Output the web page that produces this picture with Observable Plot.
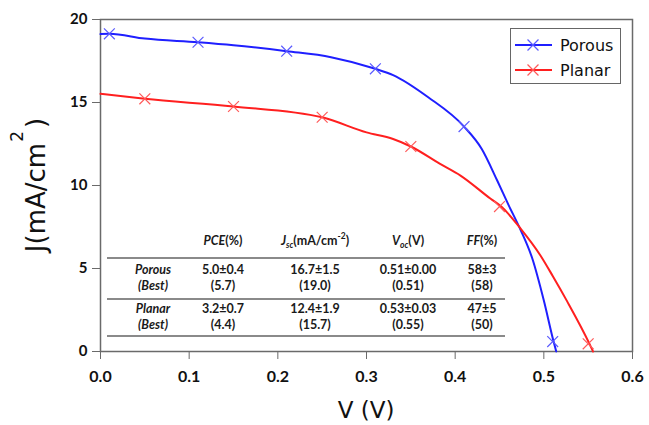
<!DOCTYPE html>
<html><head><meta charset="utf-8">
<script src="https://cdn.jsdelivr.net/npm/d3@7"></script>
<script src="https://cdn.jsdelivr.net/npm/@observablehq/plot@0.6"></script>
<style>
html,body{margin:0;padding:0;background:#fff;}
#wrap{position:relative;width:649px;height:425px;overflow:hidden;}
#tbl{position:absolute;left:0;top:0;width:649px;height:425px;pointer-events:none;font-family:Lato,sans-serif;font-weight:700;font-size:12.5px;color:#1a1a1a;}
.cell{position:absolute;transform:translate(-50%,-50%);white-space:nowrap;line-height:1.2;text-align:center;}
.two{line-height:15.5px;}
.it{font-style:italic;}
.hr{position:absolute;height:2px;background:#8a8a8a;}
#legend{position:absolute;left:510px;top:28px;width:111px;height:56px;border:1.5px solid #666;box-sizing:border-box;background:#fff;}
sub,sup{font-size:8.5px;line-height:0;}
</style></head><body><div id="wrap"></div>
<script>
// ---- data ----
const porousV = [0, 0.01, 0.05, 0.11, 0.15, 0.21, 0.26, 0.31, 0.33, 0.37, 0.41, 0.43, 0.4474, 0.46, 0.474, 0.487, 0.5, 0.511, 0.514];
const porousJ = [19.12, 19.14, 18.85, 18.63, 18.45, 18.09, 17.73, 17.03, 16.65, 15.3, 13.55, 12.2, 10.3, 8.85, 7.3, 5.6, 3.07, 0.6, 0];
const planarV = [0, 0.05, 0.15, 0.25, 0.3, 0.33, 0.35, 0.383, 0.406, 0.44, 0.452, 0.474, 0.496, 0.51, 0.526, 0.5515, 0.5555];
const planarJ = [15.52, 15.22, 14.76, 14.11, 13.2, 12.8, 12.35, 11.3, 10.6, 9.2, 8.73, 7.39, 5.8, 4.55, 3.05, 0.46, 0];
const porousMarkV = [0.01, 0.11, 0.21, 0.31, 0.41, 0.51];
const porousMarkJ = [19.14, 18.63, 18.09, 17.03, 13.55, 0.6];
const planarMarkV = [0.05, 0.15, 0.25, 0.35, 0.45, 0.55];
const planarMarkJ = [15.22, 14.76, 14.11, 12.35, 8.73, 0.46];
const xTicks = [0, 0.1, 0.2, 0.3, 0.4, 0.5, 0.6];
const yTicks = [0, 5, 10, 15, 20];
const seriesNames = ["Porous", "Planar"];
const seriesColors = ["#1f1fff", "#ff1f1f"];
const markColors = ["#5a5aff", "#ff5a5a"];
const xLabel = "V (V)";
const yLabelMain = "J(mA/cm";
const yLabelSup = "2";
// table
const tableHeaders = ['<span class="it">PCE</span>(%)', '<span class="it">J<sub>sc</sub></span>(mA/cm<sup>-2</sup>)', '<span class="it">V<sub>oc</sub></span>(V)', '<span class="it">FF</span>(%)'];
const tableRowNames = ["Porous", "Planar"];
const bestLabel = "(Best)";
const pceMean = ["5.0±0.4", "3.2±0.7"];
const pceBest = ["(5.7)", "(4.4)"];
const jscMean = ["16.7±1.5", "12.4±1.9"];
const jscBest = ["(19.0)", "(15.7)"];
const vocMean = ["0.51±0.00", "0.53±0.03"];
const vocBest = ["(0.51)", "(0.55)"];
const ffMean = ["58±3", "47±5"];
const ffBest = ["(58)", "(50)"];

// ---- build ----
const porous = porousV.map((v, i) => ({V: v, J: porousJ[i]}));
const planar = planarV.map((v, i) => ({V: v, J: planarJ[i]}));
const porousMarks = porousMarkV.map((v, i) => ({V: v, J: porousMarkJ[i]}));
const planarMarks = planarMarkV.map((v, i) => ({V: v, J: planarMarkJ[i]}));

const chart = Plot.plot({
  width: 649, height: 425,
  marginLeft: 100, marginRight: 17, marginTop: 19, marginBottom: 74,
  style: {fontFamily: "Lato, sans-serif", background: "#fff", color: "#111"},
  x: {domain: [0, 0.6]},
  y: {domain: [0, 20]},
  marks: [
    Plot.frame({stroke: "#6a6a6a", strokeWidth: 1.5}),
    Plot.axisX({ticks: xTicks, tickFormat: d3.format(".1f"), tickSize: 8, tickPadding: 11, fontSize: 16, fontWeight: 700, stroke: "#6a6a6a", label: null}),
    Plot.axisY({ticks: yTicks, tickSize: 8, tickPadding: 5, fontSize: 15, fontWeight: 700, stroke: "#6a6a6a", label: null}),
    Plot.line(porous, {x: "V", y: "J", stroke: seriesColors[0], strokeWidth: 2, curve: "monotone-x"}),
    Plot.line(planar, {x: "V", y: "J", stroke: seriesColors[1], strokeWidth: 2, curve: "monotone-x"}),
    Plot.dot(porousMarks, {x: "V", y: "J", symbol: "times", r: 5, stroke: markColors[0], strokeWidth: 1.2}),
    Plot.dot(planarMarks, {x: "V", y: "J", symbol: "times", r: 5, stroke: markColors[1], strokeWidth: 1.2})
  ]
});
document.getElementById("wrap").appendChild(chart);

const xs = chart.scale("x"), ys = chart.scale("y");
const svg = d3.select(chart);
const xMid = (xs.range[0] + xs.range[1]) / 2;
const yMid = (ys.range[0] + ys.range[1]) / 2;
svg.append("text").attr("x", xMid).attr("y", 418).attr("text-anchor", "middle")
  .attr("font-family", "DejaVu Sans").attr("font-size", 23).attr("fill", "#111").text(xLabel);
const yl = svg.append("text").attr("transform", `translate(45,${yMid}) rotate(-90)`).attr("text-anchor", "middle")
  .attr("font-family", "DejaVu Sans").attr("font-size", 26).attr("fill", "#111");
yl.append("tspan").text(yLabelMain);
yl.append("tspan").attr("font-size", 17).attr("dy", -22).attr("dx", 1).text(yLabelSup);
yl.append("tspan").attr("dy", 22).attr("dx", 3).text(")");

// table overlay
const tbl = document.createElement("div");
tbl.id = "tbl";
document.getElementById("wrap").appendChild(tbl);
const colX = [153, 223, 315, 408, 482];
function cell(x, y, html, cls) {
  const d = document.createElement("div");
  d.className = "cell" + (cls ? " " + cls : "");
  d.style.left = x + "px"; d.style.top = y + "px";
  d.innerHTML = html; tbl.appendChild(d);
}
function hr(y) {
  const d = document.createElement("div");
  d.className = "hr"; d.style.left = "107px"; d.style.width = "398px"; d.style.top = (y - 1) + "px";
  tbl.appendChild(d);
}
tableHeaders.forEach((h, i) => cell(colX[i + 1], 240, h));
hr(258); hr(299); hr(336);
const rowY = [277, 316];
tableRowNames.forEach((n, r) => {
  const y = rowY[r];
  cell(colX[0], y, n + "<br>" + bestLabel, "it two");
  [[pceMean, pceBest], [jscMean, jscBest], [vocMean, vocBest], [ffMean, ffBest]].forEach(([m, b], c) => {
    cell(colX[c + 1], y, m[r] + "<br>" + b[r], "two");
  });
});

// legend
const leg = document.createElement("div");
leg.id = "legend";
document.getElementById("wrap").appendChild(leg);
const ls = d3.select(leg).append("svg").attr("width", 108).attr("height", 53);
seriesNames.forEach((n, i) => {
  const y = 16 + i * 25;
  ls.append("line").attr("x1", 4).attr("x2", 41).attr("y1", y).attr("y2", y).attr("stroke", seriesColors[i]).attr("stroke-width", 2);
  ls.append("path").attr("d", d3.symbol(d3.symbolTimes, 80)()).attr("transform", `translate(22,${y})`).attr("fill", "none").attr("stroke", markColors[i]).attr("stroke-width", 1.2);
  ls.append("text").attr("x", 49).attr("y", y + 6).attr("font-family", "DejaVu Sans").attr("font-size", 16).attr("fill", "#111").text(n);
});
</script></body></html>
